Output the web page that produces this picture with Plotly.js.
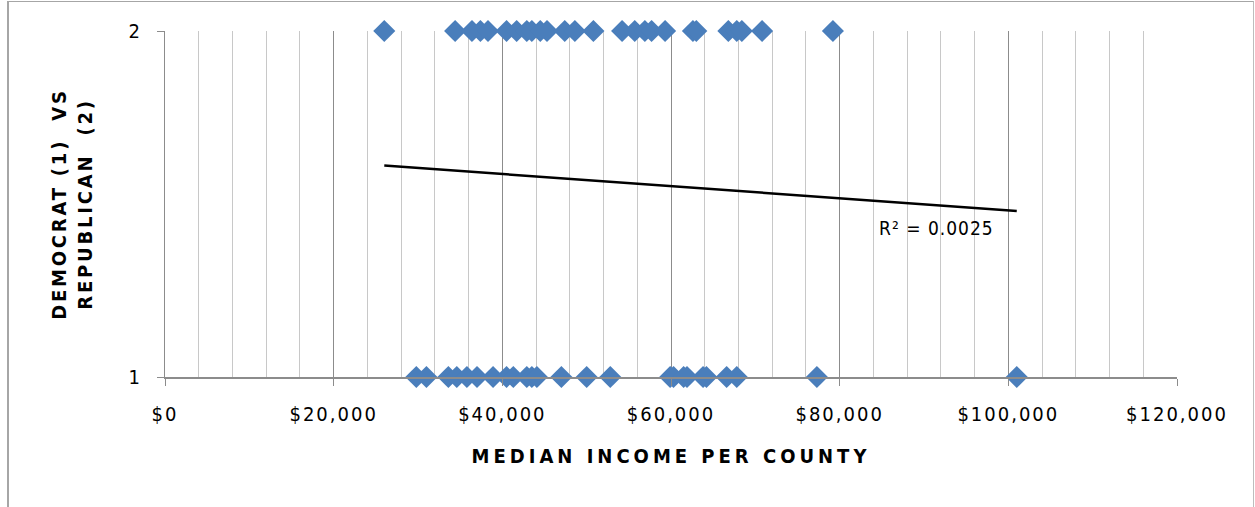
<!DOCTYPE html>
<html>
<head>
<meta charset="utf-8">
<script src="https://cdn.plot.ly/plotly-3.0.1.min.js"></script>
<style>
  html, body { margin: 0; padding: 0; background: #fff; }
  #wrap { position: relative; width: 1255px; height: 507px; overflow: hidden; }
  #frame { position: absolute; left: 7px; top: 1px; width: 1244px; height: 530px;
           border-left: 2px solid #a6a6a6; border-top: 1px solid #a6a6a6; border-right: 1px solid #bdbdbd; }
  #chart { position: absolute; left: 0; top: 0; width: 1255px; height: 507px; }
  .xtick text { letter-spacing: 2px; }
  .g-xtitle text { letter-spacing: 4px; }
  .g-ytitle text { letter-spacing: 2.8px; }
  .annotation-text { letter-spacing: 1px; }
</style>
</head>
<body>
<div id="wrap">
  <div id="frame"></div>
  <div id="chart"></div>
</div>
<script>
// Median income per county for Republican (2) counties
const republicanIncome = [26000, 34400, 36400, 37400, 38300, 40500, 41700, 42900, 43500, 44500,
  45300, 47400, 48600, 50800, 54200, 55700, 56900, 57700, 59300, 62600, 63000, 66800, 67800,
  68400, 70800, 79200];
// Median income per county for Democrat (1) counties
const democratIncome = [29800, 31000, 33600, 34600, 35800, 37000, 38900, 40500, 41300, 42900,
  43500, 44100, 47000, 50000, 52800, 59900, 60300, 61500, 61900, 63800, 64200, 66600, 67800,
  77300, 101000];
const republicanCode = 2;
const democratCode = 1;
// Linear trendline end points
const trendX = [26000, 101000];
const trendY = [1.611, 1.480];
const rSquaredLabel = 'R² = 0.0025';
const xTickVals = [0, 20000, 40000, 60000, 80000, 100000, 120000];
const xTickText = ['$0', '$20,000', '$40,000', '$60,000', '$80,000', '$100,000', '$120,000'];
const yTickVals = [1, 2];

const xs = republicanIncome.concat(democratIncome);
const ys = republicanIncome.map(() => republicanCode).concat(democratIncome.map(() => democratCode));

const FONT = '"DejaVu Sans Condensed", "Liberation Sans Narrow", sans-serif';

const traces = [
  {
    type: 'scatter', mode: 'markers', x: xs, y: ys, cliponaxis: false,
    marker: { symbol: 'diamond', size: 17, color: '#4a7ebb', line: { width: 0 } },
    hoverinfo: 'x+y', showlegend: false
  },
  {
    type: 'scatter', mode: 'lines', x: trendX, y: trendY, cliponaxis: false,
    line: { color: '#000000', width: 2.5 }, hoverinfo: 'skip', showlegend: false
  }
];

const layout = {
  width: 1255, height: 507,
  margin: { l: 165, r: 78, t: 31, b: 130 },
  paper_bgcolor: 'rgba(0,0,0,0)', plot_bgcolor: 'rgba(0,0,0,0)',
  font: { family: FONT, color: '#000', size: 20 },
  showlegend: false,
  xaxis: {
    range: [0, 120000], autorange: false,
    tickvals: xTickVals, ticktext: xTickText,
    showgrid: true, gridcolor: '#8c8c8c', gridwidth: 1,
    minor: { dtick: 4000, tick0: 0, showgrid: true, gridcolor: '#c8c8c8', gridwidth: 1, ticks: '' },
    showline: true, linecolor: '#8c8c8c', linewidth: 2,
    ticks: 'outside', ticklen: 7, tickcolor: '#8c8c8c', tickwidth: 1,
    ticklabelstandoff: 11,
    tickfont: { family: FONT, size: 20, color: '#000' },
    zeroline: false,
    title: { text: 'MEDIAN INCOME PER COUNTY', standoff: 24,
             font: { family: FONT, size: 20, color: '#000', weight: 'bold' } }
  },
  yaxis: {
    range: [1, 2], autorange: false,
    tickvals: yTickVals, ticktext: ['1', '2'],
    showgrid: true, gridcolor: '#8c8c8c', gridwidth: 2,
    showline: true, linecolor: '#8c8c8c', linewidth: 1,
    ticks: 'outside', ticklen: 7, tickcolor: '#8c8c8c',
    ticklabelstandoff: 13,
    tickfont: { family: FONT, size: 20, color: '#000' },
    zeroline: false,
    title: { text: 'DEMOCRAT (1)  VS<br>REPUBLICAN  (2)', standoff: 30,
             font: { family: FONT, size: 20, color: '#000', weight: 'bold' } }
  },
  annotations: [
    { x: 84400, y: 1.43, xref: 'x', yref: 'y', xanchor: 'left', yanchor: 'middle',
      text: rSquaredLabel, showarrow: false,
      font: { family: FONT, size: 19, color: '#000' } }
  ]
};

Plotly.newPlot('chart', traces, layout, { displayModeBar: false, staticPlot: true });
</script>
</body>
</html>
